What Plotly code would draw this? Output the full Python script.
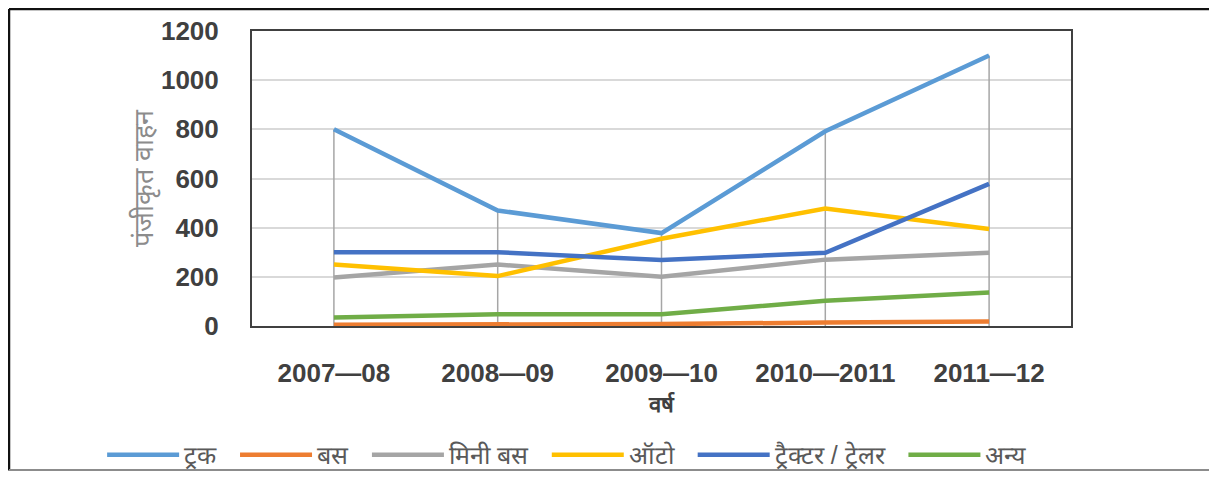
import plotly.graph_objects as go

years = ["2007—08", "2008—09", "2009—10", "2010—2011", "2011—12"]
truck = [800, 470, 378, 792, 1100]
bus = [5, 6, 8, 14, 18]
minibus = [197, 250, 200, 270, 298]
auto = [250, 203, 355, 478, 395]
tractor = [300, 300, 268, 298, 578]
others = [35, 48, 48, 103, 136]

names = ["ट्रक", "बस", "मिनी बस", "ऑटो", "ट्रैक्टर / ट्रेलर", "अन्य"]
colors = ["#5B9BD5", "#ED7D31", "#A5A5A5", "#FFC000", "#4472C4", "#70AD47"]
series = [truck, bus, minibus, auto, tractor, others]

fig = go.Figure()

# drop lines from highest value down to axis
tops = [max(vals) for vals in zip(*series)]
dx, dy = [], []
for yr, t in zip(years, tops):
    dx += [yr, yr, None]
    dy += [0, t, None]
fig.add_trace(go.Scatter(x=dx, y=dy, mode="lines", line=dict(color="#A6A6A6", width=1.5),
                         showlegend=False, hoverinfo="skip"))

NBSP = "\u00a0"
for i, (name, col, vals) in enumerate(zip(names, colors, series)):
    pad = "" if i == len(names) - 1 else NBSP * 2
    fig.add_trace(go.Scatter(x=years, y=vals, mode="lines", name=name + pad,
                             line=dict(color=col, width=4.5)))

fig.update_layout(
    width=1201, height=463,
    margin=dict(l=244, r=138, t=23, b=145, autoexpand=False),
    paper_bgcolor="white", plot_bgcolor="white",
    font=dict(family="Liberation Sans, Arial, sans-serif", color="#404040"),
    legend=dict(orientation="h", x=-0.183, xanchor="left", y=-0.437, yanchor="middle",
                itemwidth=72, font=dict(size=25, color="#595959"), bgcolor="rgba(0,0,0,0)"),
    shapes=[
        dict(type="line", xref="paper", yref="paper", x0=-0.2967, x1=1.2, y0=1.0746, y1=1.0746,
             line=dict(color="#111111", width=2.5)),
        dict(type="line", xref="paper", yref="paper", x0=-0.2967, x1=-0.2967, y0=1.0746, y1=-0.49,
             line=dict(color="#111111", width=2.5)),
        dict(type="line", xref="paper", yref="paper", x0=-0.2967, x1=1.2, y0=-0.49, y1=-0.49,
             line=dict(color="#8C8C8C", width=3)),
    ],
)
fig.update_xaxes(
    type="category", range=[-0.5, 4.5], automargin=False,
    showgrid=False, showline=True, mirror=True, linecolor="#404040", linewidth=2,
    ticks="outside", ticklen=23, tickcolor="rgba(0,0,0,0)",
    tickfont=dict(size=26, color="#404040", weight="bold"),
    title=dict(text="<b>वर्ष</b>", font=dict(size=22, color="#404040"), standoff=9),
)
fig.update_yaxes(
    range=[0, 1200], dtick=200, automargin=False,
    showgrid=True, gridcolor="#D9D9D9", gridwidth=1.5,
    showline=True, mirror=True, linecolor="#404040", linewidth=2,
    ticks="outside", ticklen=26, tickcolor="rgba(0,0,0,0)",
    tickfont=dict(size=26, color="#404040", weight="bold"),
    title=dict(text="पंजीकृत वाहन", font=dict(size=27, color="#8C8C8C"), standoff=0),
    zeroline=False,
)

fig.write_html("out.html")
